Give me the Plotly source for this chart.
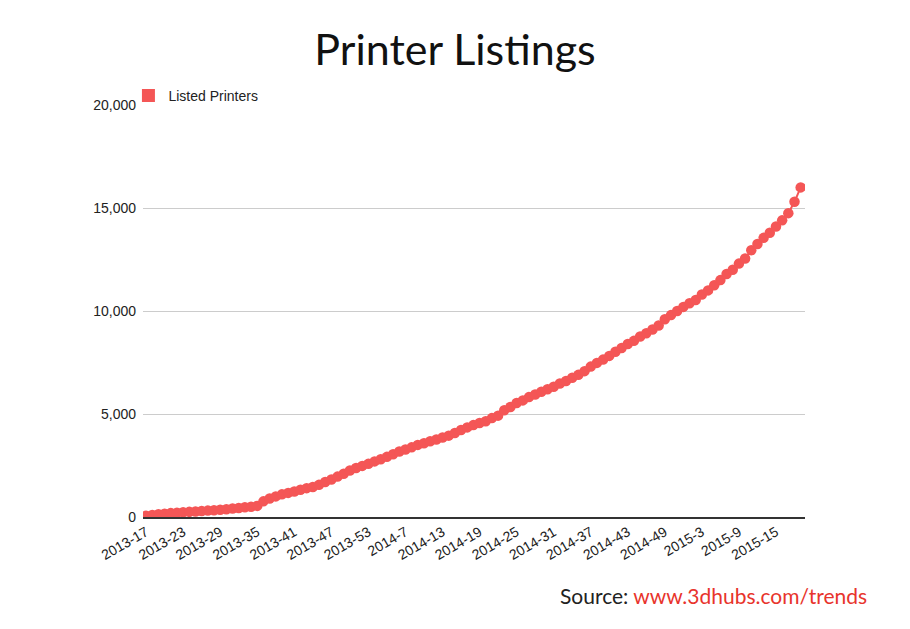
import plotly.graph_objects as go

# Week categories (year-week)
weeks = ([f"2013-{w}" for w in range(17, 54)] +
         [f"2014-{w}" for w in range(2, 53)] +
         [f"2015-{w}" for w in range(1, 20)])

listed_printers = [
    60, 100, 130, 160, 190, 210, 230, 250, 270, 290,
    310, 330, 350, 380, 410, 440, 470, 500, 540, 760,
    900, 1000, 1100, 1170, 1240, 1320, 1400, 1460, 1560, 1700,
    1820, 1960, 2100, 2260, 2380, 2480, 2580, 2700, 2800, 2920,
    3050, 3180, 3280, 3380, 3500, 3580, 3680, 3760, 3860, 3950,
    4080, 4220, 4350, 4460, 4560, 4650, 4800, 4920, 5180, 5340,
    5530, 5660, 5820, 5950, 6080, 6200, 6320, 6480, 6600, 6760,
    6900, 7080, 7300, 7480, 7640, 7820, 8020, 8200, 8400, 8550,
    8760, 8920, 9100, 9300, 9600, 9800, 10000, 10200, 10380, 10530,
    10800, 11000, 11250, 11500, 11800, 12000, 12300, 12550, 12950, 13250,
    13550, 13800, 14100, 14400, 14750, 15300, 16000,
]

tick_labels = weeks[::6]
y_ticks = [0, 5000, 10000, 15000, 20000]

RED = "#f45656"

fig = go.Figure()
fig.add_trace(go.Scatter(
    x=weeks, y=listed_printers, mode="lines+markers",
    line=dict(color=RED, width=2),
    marker=dict(color=RED, size=10.5),
    showlegend=False, hoverinfo="x+y",
))
fig.add_trace(go.Scatter(
    x=[None], y=[None], mode="markers", name="Listed Printers",
    marker=dict(color=RED, size=13, symbol="square"),
))

fig.update_layout(
    width=910, height=629,
    margin=dict(l=143, r=105, t=105, b=112),
    paper_bgcolor="white", plot_bgcolor="white",
    title=dict(text="Printer Listings", x=0.5, xanchor="center", y=0.92, yanchor="middle",
               font=dict(family="Lato, Open Sans, sans-serif", size=43, color="#111")),
    font=dict(family="Arial, Liberation Sans, sans-serif", size=14, color="#222"),
    legend=dict(x=-0.022, xanchor="left", y=0.983, yanchor="bottom", orientation="h",
                font=dict(size=14, color="#222"), itemwidth=30,
                bgcolor="rgba(0,0,0,0)"),
    xaxis=dict(type="category", tickmode="array", tickvals=tick_labels, ticktext=tick_labels,
               tickangle=-30, showgrid=False, showline=True, linecolor="#333", linewidth=1.5,
               ticks="", tickfont=dict(size=14, color="#222"), range=[-0.5, len(weeks) - 0.3]),
    yaxis=dict(range=[0, 20000], tickvals=y_ticks, tickformat=",", showgrid=True,
               gridcolor="#cccccc", gridwidth=1, zeroline=False, showline=False, ticks="",
               tickfont=dict(size=14, color="#222"), ticklabelstandoff=6),
    annotations=[dict(
        text="Source: <span style='color:#e8342c'>www.3dhubs.com/trends</span>",
        xref="paper", yref="paper", x=1.0 + 64 / 662, y=-0.19, xanchor="right", yanchor="middle",
        showarrow=False, font=dict(family="Lato, Open Sans, sans-serif", size=21, color="#222"),
    )],
)

fig.write_html("out.html")
